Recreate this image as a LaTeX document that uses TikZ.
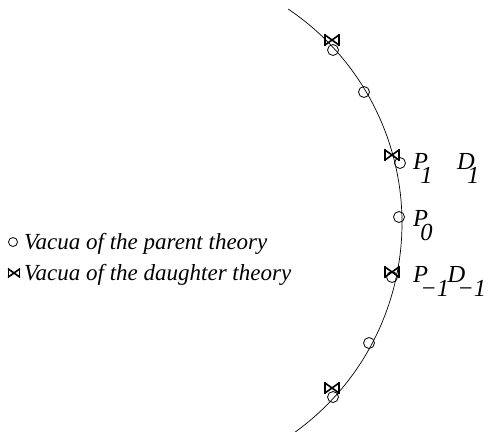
\documentclass[tikz,border=0pt]{standalone}
\usepackage{fontspec}
\setmainfont{Liberation Serif}
\usetikzlibrary{positioning}
\newcommand{\vlab}[2]{#1\kern-0.32em\raisebox{-0.58em}{#2}}
\tikzset{
  pvac/.style={circle,draw,line width=0.8pt,minimum size=11pt,inner sep=0pt},
  dvac/.pic={
    \draw[line width=1.6pt] (-7,-5) -- (7,5) (-7,5) -- (7,-5);
    \draw[line width=1.5pt] (-7,-5.5) -- (-7,5.5) (7,-5.5) -- (7,5.5);
  },
  legtext/.style={anchor=base west,inner sep=0pt,font=\fontsize{23}{26}\selectfont\itshape},
  vlabel/.style={legtext,font=\fontsize{24.5}{27}\selectfont\itshape},
}
\begin{document}
\begin{tikzpicture}[x=1pt,y=-1pt,line cap=round,line join=round]
  \useasboundingbox (0,0) rectangle (497,431);
  \coordinate (O) at (144,223);
  % the moduli curve
  \draw[line width=0.7pt] (O) ++(-56:258) arc[start angle=-56,end angle=54.5,radius=258];
  % parent vacua
  \node[pvac] (p3) at (333,50) {};
  \node[pvac] (p2) at (364,92) {};
  \node[pvac] (p1) at (400,163) {};
  \node[pvac] (p0) at (399,217) {};
  \node[pvac] (pm1) at (392,277) {};
  \node[pvac] (pm2) at (369,343) {};
  \node[pvac] (pm3) at (333,397) {};
  % daughter vacua
  \pic at (332,40) {dvac};
  \pic at (392,155) {dvac};
  \pic at (392,272) {dvac};
  \pic at (332,388) {dvac};
  % labels
  \node[vlabel] (lp1) at (413,169) {\vlab{P}{1}};
  \node[vlabel] (ld1) at (457,169) {\vlab{D}{1}};
  \node[vlabel] (lp0) at (413,226) {\vlab{P}{0}};
  \node[vlabel] (lpm1) at (413,282) {\vlab{P}{−1}};
  \node[vlabel] (ldm1) at (lpm1.base east) [anchor=base west,xshift=-2pt] {\vlab{D}{−1}};
  % legend
  \node[pvac,minimum size=9pt] (kp) at (13,242) {};
  \node[legtext] (tp) at (24,249) {Vacua of the parent theory};
  \pic[scale=0.8] at (14,273) {dvac};
  \node[legtext] (td) at (24,280) {Vacua of the daughter theory};
\end{tikzpicture}
\end{document}
